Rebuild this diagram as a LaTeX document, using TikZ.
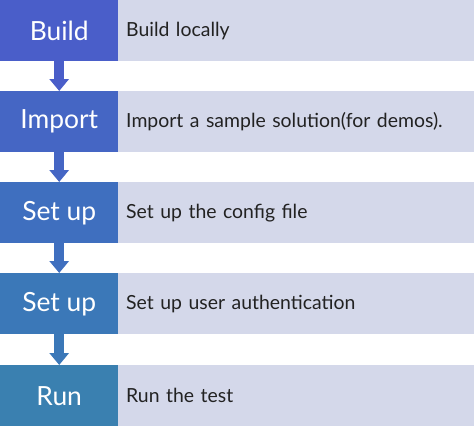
\documentclass[tikz,border=0pt]{standalone}
\usepackage{fontspec}
\setmainfont{Lato}
\usetikzlibrary{arrows.meta}
\definecolor{lite}{HTML}{D4D8EA}
\definecolor{cA}{HTML}{4A5EC9}
\definecolor{cB}{HTML}{4566C4}
\definecolor{cC}{HTML}{3F6FBF}
\definecolor{cD}{HTML}{3B78B8}
\definecolor{cE}{HTML}{3A80B0}
\definecolor{txt}{HTML}{222222}
\tikzset{
  stepbox/.style={fill=#1, draw=none, inner sep=0pt, minimum width=118bp, minimum height=61bp, text=white, font=\fontsize{26.5}{30}\selectfont, anchor=north west},
  descbox/.style={fill=lite, draw=none, inner sep=0pt, minimum width=356bp, minimum height=61bp, text=txt, font=\fontsize{19.5}{23}\selectfont, anchor=north west, text width=352bp, align=left},
  flow/.style={draw=#1, line width=10bp, -{Triangle[width=19bp,length=12bp]}, shorten >=0pt}
}
\begin{document}
\begin{tikzpicture}[x=1bp,y=-1bp]
\useasboundingbox (0,0) rectangle (474,426);
\node[stepbox=cA] (s1) at (0,0) {Build};
\node[stepbox=cB] (s2) at (0,91) {Import};
\node[stepbox=cC] (s3) at (0,182) {Set up};
\node[stepbox=cD] (s4) at (0,273) {Set up};
\node[stepbox=cE] (s5) at (0,365) {Run};
\node[descbox] (d1) at (118,0) {\hspace*{6bp}Build locally};
\node[descbox] (d2) at (118,91) {\hspace*{6bp}Import a sample solution(for demos).};
\node[descbox] (d3) at (118,182) {\hspace*{6bp}Set up the config file};
\node[descbox] (d4) at (118,273) {\hspace*{6bp}Set up user authentication};
\node[descbox] (d5) at (118,365) {\hspace*{6bp}Run the test};
\draw[flow=cA] (s1.south) -- (s2.north);
\draw[flow=cB] (s2.south) -- (s3.north);
\draw[flow=cC] (s3.south) -- (s4.north);
\draw[flow=cD] (s4.south) -- (s5.north);
\end{tikzpicture}
\end{document}
